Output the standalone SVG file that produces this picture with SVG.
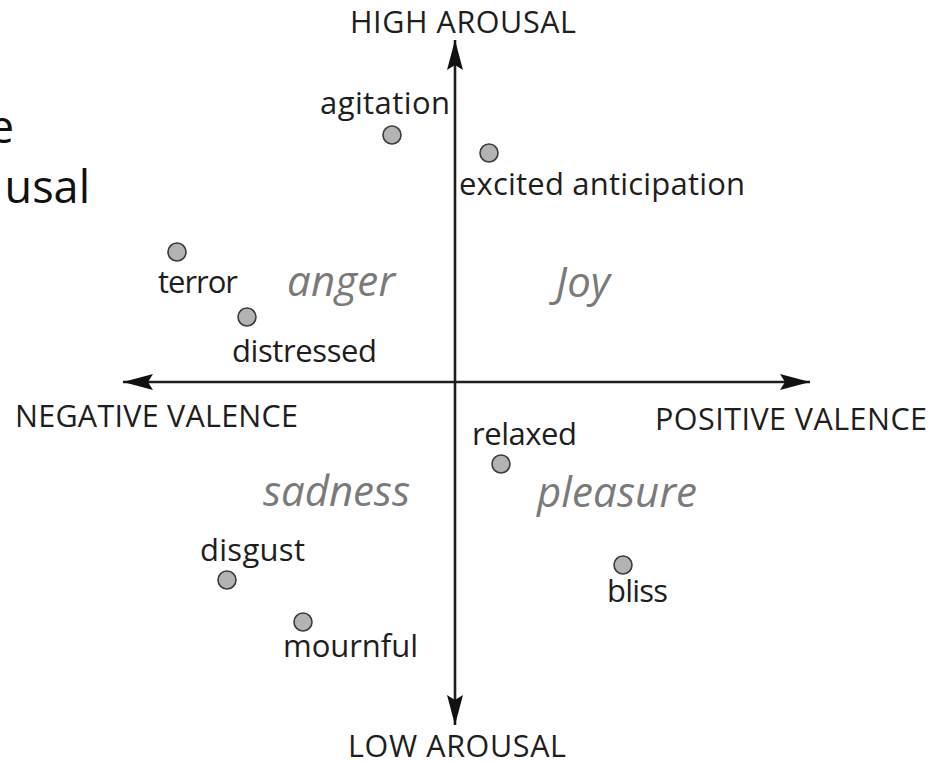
<svg xmlns="http://www.w3.org/2000/svg" width="943" height="764" viewBox="0 0 943 764">
<style>
.lbl{font-family:"Open Sans","Noto Sans",sans-serif;font-size:31px;fill:#1e1e1e}
.cap{font-family:"Open Sans","Noto Sans",sans-serif;font-size:30.5px;fill:#1e1e1e}
.emo{font-family:"Open Sans","Noto Sans",sans-serif;font-size:42px;font-style:italic;fill:#7a7a7a}
.pt{fill:#b3b3b3;stroke:#3a3a3a;stroke-width:1.6}
.axis{stroke:#1e1e1e;stroke-width:2.6;fill:none}
.slide{font-family:"Open Sans","Noto Sans",sans-serif;font-size:45px;fill:#111}
</style>
<defs>
<marker id="ah" viewBox="0 0 30 16" refX="30" refY="8" markerWidth="30" markerHeight="16" markerUnits="userSpaceOnUse" orient="auto">
<path d="M0,0 L30,8 L0,16 L5,8 Z" fill="#111"/>
</marker>
</defs>
<rect width="943" height="764" fill="#fff"/>
<g id="slide-text">
<text class="slide" x="14" y="143" text-anchor="end">e</text>
<text class="slide" x="90" y="203" text-anchor="end">usal</text>
</g>
<g id="connectors">
<line class="axis" x1="455" y1="382" x2="455" y2="40" marker-end="url(#ah)"/>
<line class="axis" x1="455" y1="382" x2="455" y2="725" marker-end="url(#ah)"/>
<line class="axis" x1="455" y1="382" x2="123" y2="382" marker-end="url(#ah)"/>
<line class="axis" x1="455" y1="382" x2="810" y2="382" marker-end="url(#ah)"/>
</g>
<g id="axis-labels">
<text id="high-arousal" class="cap" x="350" y="33" textLength="226">HIGH AROUSAL</text>
<text id="low-arousal" class="cap" x="348" y="757" textLength="218">LOW AROUSAL</text>
<text id="negative-valence" class="cap" x="15" y="427" textLength="283">NEGATIVE VALENCE</text>
<text id="positive-valence" class="cap" x="655" y="430" textLength="272">POSITIVE VALENCE</text>
</g>
<g id="quadrants">
<text class="emo" x="287" y="296" textLength="108">anger</text>
<text class="emo" x="583" y="297" text-anchor="middle">Joy</text>
<text class="emo" x="263" y="506" textLength="147">sadness</text>
<text class="emo" x="537" y="507" textLength="160">pleasure</text>
</g>
<g id="agitation"><circle class="pt" cx="392" cy="135" r="9"/><text class="lbl" x="320" y="114" textLength="130">agitation</text></g>
<g id="excited-anticipation"><circle class="pt" cx="489" cy="153" r="9"/><text class="lbl" x="459" y="195" textLength="286">excited anticipation</text></g>
<g id="terror"><circle class="pt" cx="177" cy="252" r="9"/><text class="lbl" x="158" y="293" textLength="80">terror</text></g>
<g id="distressed"><circle class="pt" cx="247" cy="317" r="9"/><text class="lbl" x="232" y="362" textLength="145">distressed</text></g>
<g id="relaxed"><circle class="pt" cx="501" cy="464" r="9"/><text class="lbl" x="472" y="445" textLength="105">relaxed</text></g>
<g id="bliss"><circle class="pt" cx="623" cy="565" r="9"/><text class="lbl" x="607" y="602" textLength="61">bliss</text></g>
<g id="disgust"><circle class="pt" cx="227" cy="580" r="9"/><text class="lbl" x="200" y="561" textLength="105">disgust</text></g>
<g id="mournful"><circle class="pt" cx="303" cy="622" r="9"/><text class="lbl" x="283" y="657" textLength="135">mournful</text></g>
</svg>
